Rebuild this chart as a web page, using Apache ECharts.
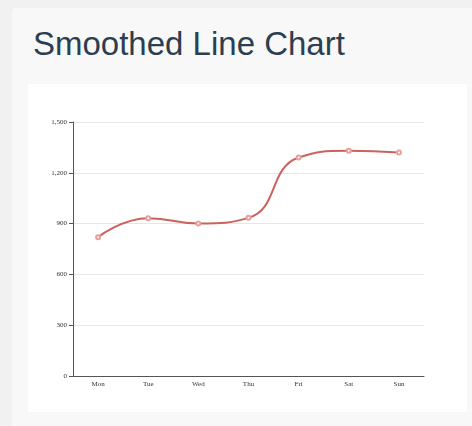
<!DOCTYPE html>
<html>
<head>
<meta charset="utf-8">
<script src="https://cdn.jsdelivr.net/npm/echarts@6/dist/echarts.min.js"></script>
<style>
  html, body { margin: 0; padding: 0; background: #f1f1f1; width: 472px; height: 426px; overflow: hidden; }
  .panel { position: absolute; left: 12px; top: 8px; width: 470px; height: 430px; background: #f8f8f8; border-radius: 4px; }
  h1 { position: absolute; left: 21px; top: 19px; margin: 0; font-family: "Liberation Sans", Arial, sans-serif; font-weight: normal; font-size: 33px; line-height: 1; color: #2c3e50; }
  #chart { position: absolute; left: 16px; top: 76px; width: 439px; height: 328px; background: #fff; }
</style>
</head>
<body>
<div class="panel">
  <h1>Smoothed Line Chart</h1>
  <div id="chart"></div>
</div>
<script>
var days = ['Mon', 'Tue', 'Wed', 'Thu', 'Fri', 'Sat', 'Sun'];
var values = [820, 932, 901, 934, 1290, 1330, 1320];

var labelStyle = {
    color: '#333',
    fontSize: 7,
    fontFamily: 'Liberation Serif'
};

var chart = echarts.init(document.getElementById('chart'));
chart.setOption({
    animation: false,
    grid: {
        left: 45,
        right: 43,
        top: 38,
        bottom: 36
    },
    xAxis: {
        type: 'category',
        data: days,
        axisLine: { lineStyle: { color: '#555' } },
        axisTick: { lineStyle: { color: '#555' } },
        axisLabel: Object.assign({ margin: 5 }, labelStyle)
    },
    yAxis: {
        type: 'value',
        min: 0,
        max: 1500,
        interval: 300,
        axisLine: { show: true, lineStyle: { color: '#555' } },
        axisTick: { show: true, length: 4, lineStyle: { color: '#555' } },
        axisLabel: Object.assign({ margin: 6 }, labelStyle),
        splitLine: { lineStyle: { color: '#e6e6e6' } }
    },
    series: [{
        type: 'line',
        smooth: 0.5,
        data: values,
        symbol: 'emptyCircle',
        symbolSize: 4,
        lineStyle: { color: '#cc625d', width: 2 },
        itemStyle: { color: '#e6a09c', borderWidth: 1 }
    }]
});
</script>
</body>
</html>
